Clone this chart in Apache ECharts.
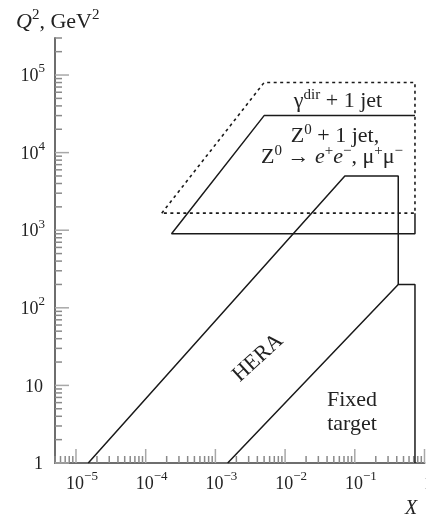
<!DOCTYPE html>
<html><head><meta charset="utf-8">
<script src="https://cdn.jsdelivr.net/npm/echarts@6/dist/echarts.min.js"></script>
<style>html,body{margin:0;padding:0;background:#fff}#c{width:426px;height:520px}</style>
</head><body><div id="c"></div>
<script>
// ---- data ----
var xRange = [5e-6, 1];
var yRange = [1, 3e5];
var xDecades = [-5, -4, -3, -2, -1, 0];
var yDecades = [0, 1, 2, 3, 4, 5];
// region boundaries [X, Q^2]
var gammaJet = [[1.7e-4, 1660], [5e-3, 8e4], [0.73, 8e4], [0.73, 1660], [1.7e-4, 1660]];
var zJet = [[0.73, 1660], [0.73, 900], [2.35e-4, 900], [5e-3, 3e4], [0.73, 3e4]];
var hera = [[1.5e-5, 1], [0.072, 5000], [0.42, 5000], [0.42, 200]];
var fixedTarget = [[1.5e-3, 1], [0.42, 200], [0.73, 200], [0.73, 1]];

var FONT = 'Liberation Serif';
function supText(k){ return String(k).replace('-', '\u2212'); }

function buildTicks(decs, lo, hi){
  var out = [];
  for (var d = decs[0]-1; d <= decs[decs.length-1]; d++){
    for (var m = 1; m <= 9; m++){
      var v = m * Math.pow(10, d);
      if (v >= lo*0.999 && v <= hi*1.001) out.push([v, m === 1 ? 1 : 0, d]);
    }
  }
  return out;
}
var xTicks = buildTicks(xDecades, xRange[0], xRange[1]);
var yTicks = buildTicks(yDecades, yRange[0], yRange[1]);

function labelFor(d){
  if (d === 0) return '{b|1}';
  if (d === 1) return '{b|10}';
  return '{b|10}{s|' + supText(d) + '}';
}
var labelRich = {
  b: {fontFamily: FONT, fontSize: 18, fill: '#222', lineHeight: 23, verticalAlign: 'bottom'},
  s: {fontFamily: FONT, fontSize: 13, fill: '#222', lineHeight: 23, verticalAlign: 'top'}
};
function annRich(size){
  var lh = size + 3;
  return {
    n: {fontFamily: FONT, fontSize: size, fill: '#222', lineHeight: lh, verticalAlign: 'bottom'},
    i: {fontFamily: FONT, fontStyle: 'italic', fontSize: size, fill: '#222', lineHeight: lh, verticalAlign: 'bottom'},
    s: {fontFamily: FONT, fontSize: Math.round(size * 0.68), fill: '#222', lineHeight: lh, verticalAlign: 'top'}
  };
}

var chart = echarts.init(document.getElementById('c'));
function region(name, data, dashed){
  return {
    type: 'line', name: name, data: data, symbol: 'none', silent: true, animation: false,
    lineStyle: {color: '#1a1a1a', width: dashed ? 1.6 : 1.5, type: dashed ? [3, 3.5] : 'solid'},
    z: 3
  };
}
chart.setOption({
  animation: false,
  grid: {left: 55, right: 1.5, top: 38, bottom: 57},
  xAxis: {type: 'log', min: xRange[0], max: xRange[1], logBase: 10,
    axisLine: {lineStyle: {color: '#6e6e6e', width: 2}}, axisTick: {show: false},
    axisLabel: {show: false}, splitLine: {show: false}, minorTick: {show: false}},
  yAxis: {type: 'log', min: yRange[0], max: yRange[1], logBase: 10,
    axisLine: {lineStyle: {color: '#6e6e6e', width: 2}}, axisTick: {show: false},
    axisLabel: {show: false}, splitLine: {show: false}, minorTick: {show: false}},
  series: [
    region('gamma', gammaJet, true),
    region('z', zJet, false),
    region('hera', hera, false),
    region('fixed', fixedTarget, false),
    {
      type: 'custom', data: xTicks.map(function(t){ return [t[0], yRange[0], t[1], t[2]]; }),
      encode: {x: 0, y: 1}, silent: true, clip: false, z: 2,
      renderItem: function(params, api){
        var p = api.coord([api.value(0), api.value(1)]);
        var major = api.value(2) === 1;
        var len = major ? 14 : 7;
        var children = [{type: 'line', shape: {x1: p[0], y1: p[1], x2: p[0], y2: p[1]-len},
          style: {stroke: major ? '#a8a8a8' : '#8a8a8a', lineWidth: 1.5}}];
        if (major){
          var d = api.value(3);
          children.push({type: 'text', x: p[0] + (d === 0 ? 4 : 6), y: p[1] + 19,
            style: {text: labelFor(d), rich: labelRich, align: 'center', verticalAlign: 'middle'}});
        }
        return {type: 'group', children: children};
      }
    },
    {
      type: 'custom', data: yTicks.map(function(t){ return [xRange[0], t[0], t[1], t[2]]; }),
      encode: {x: 0, y: 1}, silent: true, clip: false, z: 2,
      renderItem: function(params, api){
        var p = api.coord([api.value(0), api.value(1)]);
        var major = api.value(2) === 1;
        var len = major ? 14 : 7;
        var children = [{type: 'line', shape: {x1: p[0], y1: p[1], x2: p[0]+len, y2: p[1]},
          style: {stroke: major ? '#a8a8a8' : '#8a8a8a', lineWidth: 1.5}}];
        if (major){
          var d = api.value(3);
          children.push({type: 'text', x: p[0] - (d <= 1 ? 12 : 10), y: p[1] - 1,
            style: {text: labelFor(d), rich: labelRich, align: 'right', verticalAlign: 'middle'}});
        }
        return {type: 'group', children: children};
      }
    }
  ],
  graphic: [
    {type: 'text', left: 16, top: 8, style: {text: '{i|Q}{s|2}{n|, GeV}{s|2}', rich: annRich(22)}},
    {type: 'text', x: 411, y: 509, style: {text: 'X', fontFamily: FONT, fontStyle: 'italic', fontSize: 20, fill: '#222', align: 'center', verticalAlign: 'middle'}},
    {type: 'text', x: 338, y: 100, style: {text: '{n|\u03b3}{s|dir}{n| + 1 jet}', align: 'center', verticalAlign: 'middle', rich: annRich(22)}},
    {type: 'text', x: 335, y: 135, style: {text: '{n|Z}{s|0}{n| + 1 jet,}', align: 'center', verticalAlign: 'middle', rich: annRich(22)}},
    {type: 'text', x: 332, y: 156, style: {text: '{n|Z}{s|0}{n| \u2192 }{i|e}{s|+}{i|e}{s|\u2212}{n|, \u03bc}{s|+}{n|\u03bc}{s|\u2212}', align: 'center', verticalAlign: 'middle', rich: annRich(22)}},
    {type: 'text', x: 258, y: 358, rotation: Math.PI * 0.235, style: {text: 'HERA', fontFamily: FONT, fontSize: 22, fill: '#222', align: 'center', verticalAlign: 'middle'}},
    {type: 'text', x: 352, y: 412, style: {text: 'Fixed\ntarget', fontFamily: FONT, fontSize: 22, lineHeight: 24, fill: '#222', align: 'center', verticalAlign: 'middle'}}
  ]
});
</script></body></html>
